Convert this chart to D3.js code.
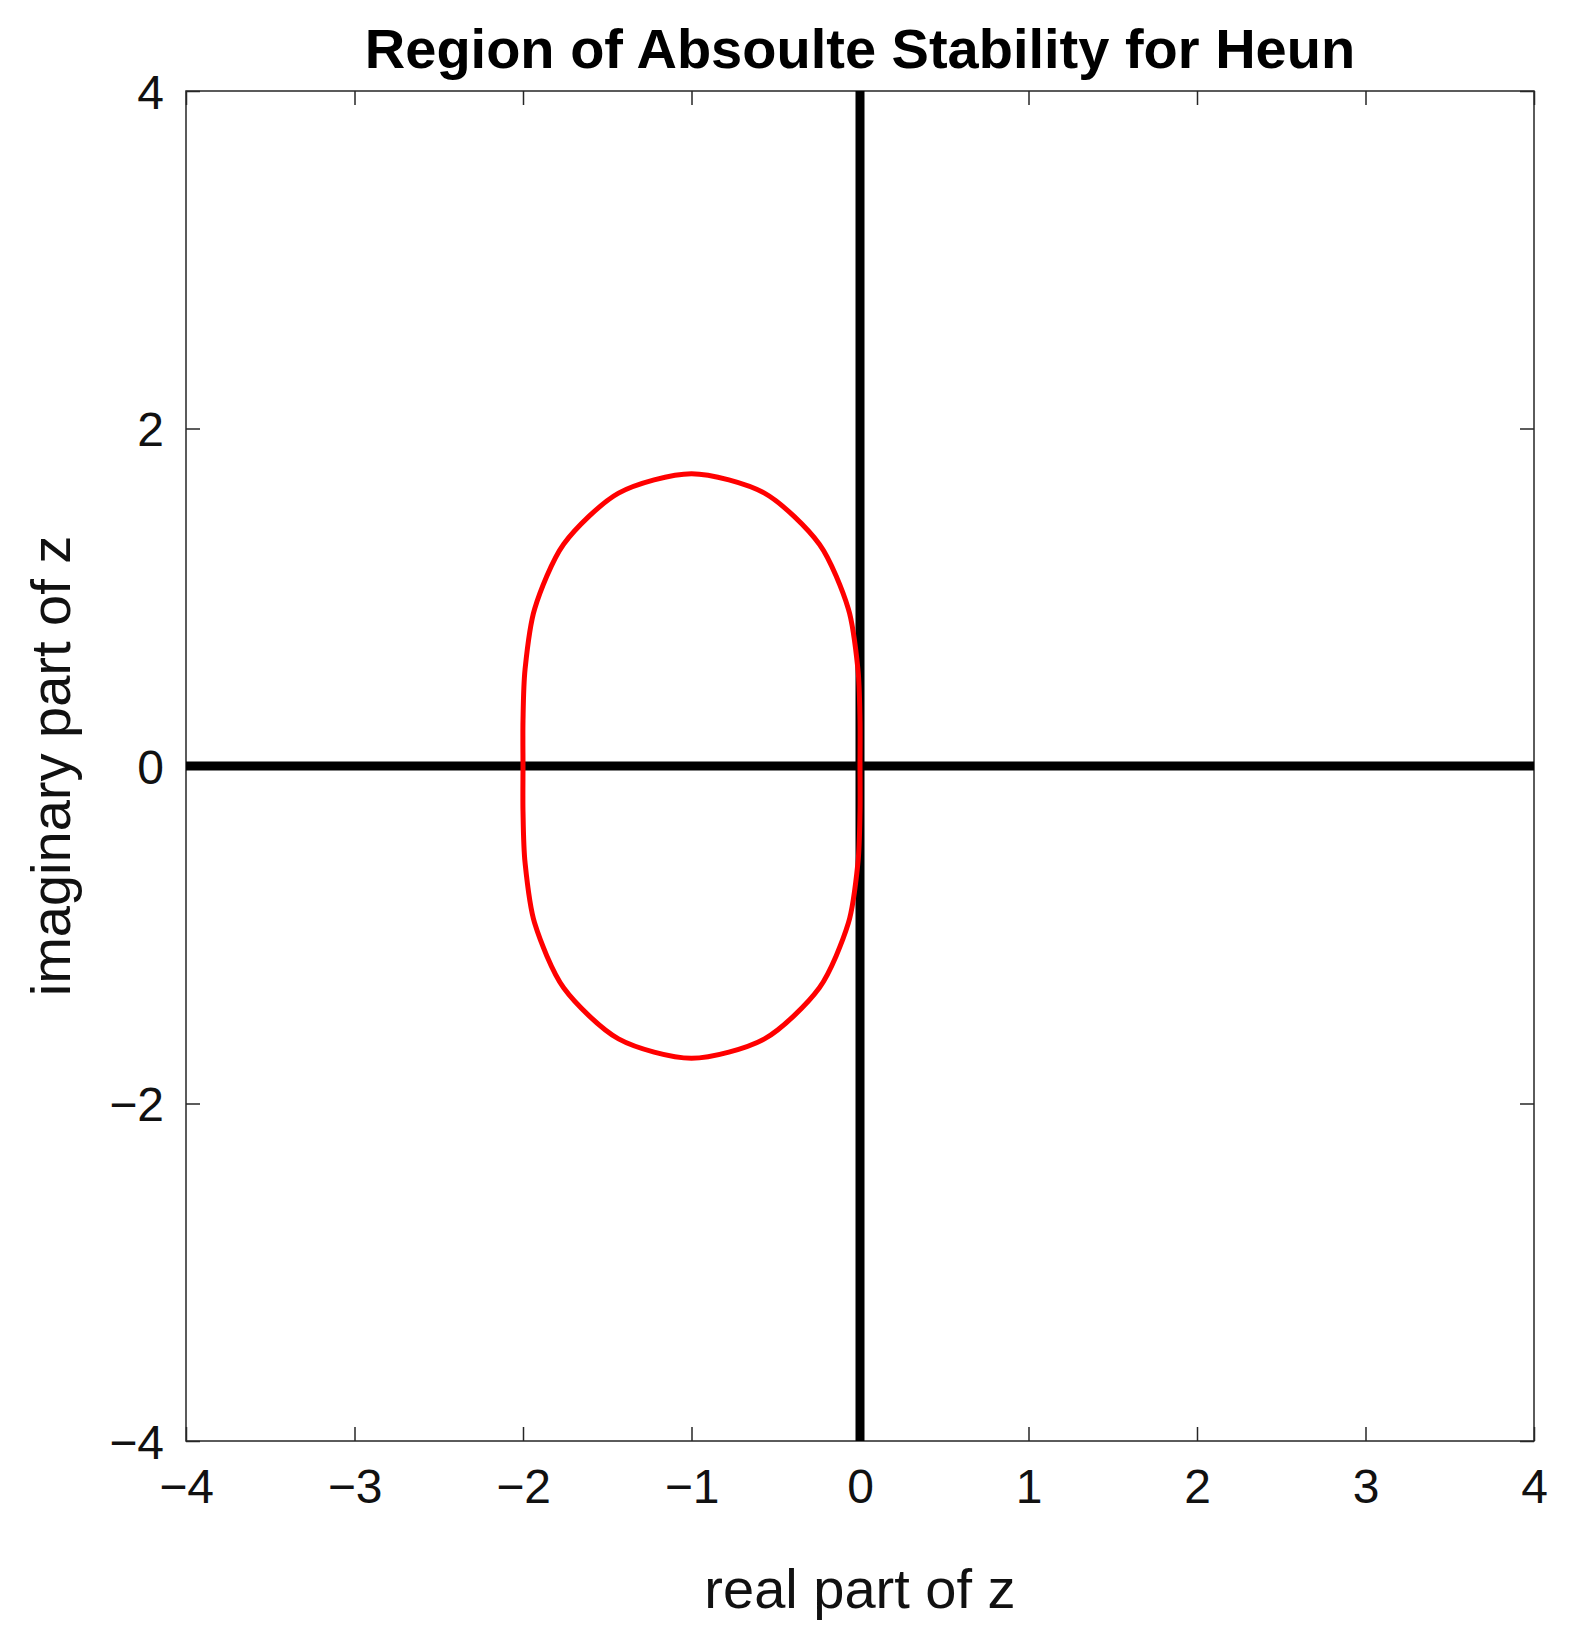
<!DOCTYPE html>
<html><head><meta charset="utf-8">
<script src="https://cdn.jsdelivr.net/npm/d3@7"></script>
<style>body{margin:0;background:#fff;font-family:"Liberation Sans",Arial,sans-serif;}</style>
</head><body><div id="chart"></div>
<script>
var xTicks = [-4, -3, -2, -1, 0, 1, 2, 3, 4];
var yTicks = [-4, -2, 0, 2, 4];
// boundary points, going round once
var curveX = [0, 0.0, -0.012, -0.069, -0.241, -0.567, -1, -1.433, -1.759, -1.931, -1.988, -2.0, -2,
              -2.0, -1.988, -1.931, -1.759, -1.433, -1, -0.567, -0.241, -0.069, -0.012, 0.0];
var curveY = [0, 0.268, 0.571, 0.931, 1.314, 1.617, 1.732, 1.617, 1.314, 0.931, 0.571, 0.268, 0,
              -0.268, -0.571, -0.931, -1.314, -1.617, -1.732, -1.617, -1.314, -0.931, -0.571, -0.268];

var W = 1573, H = 1642;
var margin = { top: 91, right: 39, bottom: 201, left: 186 };
var svg = d3.select("#chart").append("svg").attr("width", W).attr("height", H);

var x = d3.scaleLinear().domain([-4, 4]).range([margin.left, W - margin.right]);
var y = d3.scaleLinear().domain([-4, 4]).range([H - margin.bottom, margin.top]);

var tickCol = "#262626";
svg.append("rect").attr("x", x(-4)).attr("y", y(4)).attr("width", x(4) - x(-4)).attr("height", y(-4) - y(4))
  .attr("fill", "none").attr("stroke", tickCol).attr("stroke-width", 1.5);

function fmt(d) { return d < 0 ? "\u2212" + Math.abs(d) : d; }

var xAxis = svg.append("g").attr("transform", "translate(0," + y(-4) + ")")
  .call(d3.axisBottom(x).tickValues(xTicks).tickSize(-14).tickFormat(fmt).tickPadding(28));
var xTop = svg.append("g").attr("transform", "translate(0," + y(4) + ")")
  .call(d3.axisTop(x).tickValues(xTicks).tickSize(-14).tickFormat(""));
var yAxis = svg.append("g").attr("transform", "translate(" + x(-4) + ",0)")
  .call(d3.axisLeft(y).tickValues(yTicks).tickSize(-14).tickFormat(fmt).tickPadding(22));
var yRight = svg.append("g").attr("transform", "translate(" + x(4) + ",0)")
  .call(d3.axisRight(y).tickValues(yTicks).tickSize(-14).tickFormat(""));
[xAxis, xTop, yAxis, yRight].forEach(function (g) {
  g.select(".domain").remove();
  g.selectAll("line").attr("stroke", tickCol).attr("stroke-width", 1.5);
  g.selectAll("text").attr("fill", "#111").style("font-size", "48px").style("font-family", "Liberation Sans, Arial, sans-serif");
});
yAxis.selectAll("text").attr("dy", "0.36em");

// axes lines through origin
svg.append("line").attr("x1", x(-4)).attr("x2", x(4)).attr("y1", y(0)).attr("y2", y(0))
  .attr("stroke", "#000").attr("stroke-width", 9);
svg.append("line").attr("x1", x(0)).attr("x2", x(0)).attr("y1", y(4)).attr("y2", y(-4))
  .attr("stroke", "#000").attr("stroke-width", 9);

var pts = curveX.map(function (d, i) { return [d, curveY[i]]; });
var line = d3.line().x(function (d) { return x(d[0]); }).y(function (d) { return y(d[1]); })
  .curve(d3.curveCardinalClosed.tension(0.2));
svg.append("path").datum(pts).attr("d", line).attr("fill", "none").attr("stroke", "#ff0000").attr("stroke-width", 5);

svg.append("text").attr("x", (x(-4) + x(4)) / 2).attr("y", 68).attr("text-anchor", "middle")
  .style("font-size", "56px").style("font-weight", "bold").text("Region of Absoulte Stability for Heun");
svg.append("text").attr("x", (x(-4) + x(4)) / 2).attr("y", 1608).attr("text-anchor", "middle")
  .style("font-size", "56px").attr("fill", "#111").text("real part of z");
svg.append("text").attr("transform", "translate(70," + y(0) + ") rotate(-90)").attr("text-anchor", "middle")
  .style("font-size", "56px").attr("fill", "#111").text("imaginary part of z");
</script></body></html>
